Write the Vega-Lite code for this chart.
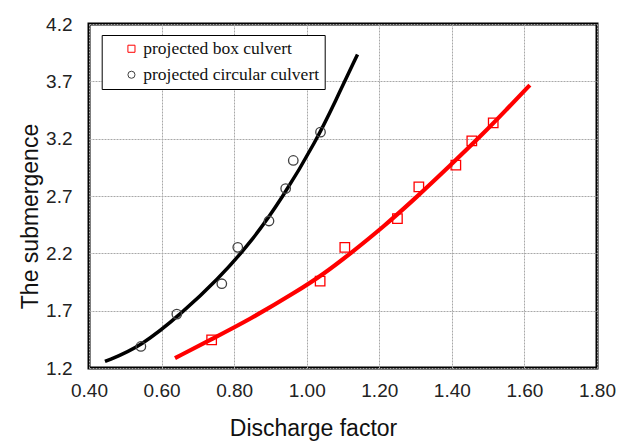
{
  "$schema": "https://vega.github.io/schema/vega-lite/v6.json",
  "autosize": {"type": "none"},
  "width": 508,
  "height": 344,
  "padding": {"left": 89, "top": 24, "right": 27, "bottom": 73},
  "background": "white",
  "config": {
    "view": {"stroke": "#000000", "strokeWidth": 3},
    "font": "Liberation Sans"
  },
  "datasets": {
    "points": [
      {"series": "projected box culvert", "factor": 0.738, "sub": 1.445},
      {"series": "projected box culvert", "factor": 1.037, "sub": 1.958},
      {"series": "projected box culvert", "factor": 1.105, "sub": 2.252},
      {"series": "projected box culvert", "factor": 1.250, "sub": 2.503},
      {"series": "projected box culvert", "factor": 1.309, "sub": 2.779},
      {"series": "projected box culvert", "factor": 1.411, "sub": 2.969},
      {"series": "projected box culvert", "factor": 1.455, "sub": 3.181},
      {"series": "projected box culvert", "factor": 1.514, "sub": 3.338},
      {"series": "projected circular culvert", "factor": 0.543, "sub": 1.388},
      {"series": "projected circular culvert", "factor": 0.642, "sub": 1.670},
      {"series": "projected circular culvert", "factor": 0.766, "sub": 1.935},
      {"series": "projected circular culvert", "factor": 0.810, "sub": 2.252},
      {"series": "projected circular culvert", "factor": 0.896, "sub": 2.482},
      {"series": "projected circular culvert", "factor": 0.942, "sub": 2.765},
      {"series": "projected circular culvert", "factor": 0.963, "sub": 3.010},
      {"series": "projected circular culvert", "factor": 1.038, "sub": 3.257}
    ],
    "curves": [
      {"fit": "box fit", "factor": 0.637, "sub": 1.286},
      {"fit": "box fit", "factor": 0.737, "sub": 1.450},
      {"fit": "box fit", "factor": 0.844, "sub": 1.625},
      {"fit": "box fit", "factor": 0.972, "sub": 1.866},
      {"fit": "box fit", "factor": 1.046, "sub": 2.018},
      {"fit": "box fit", "factor": 1.119, "sub": 2.195},
      {"fit": "box fit", "factor": 1.211, "sub": 2.430},
      {"fit": "box fit", "factor": 1.303, "sub": 2.690},
      {"fit": "box fit", "factor": 1.395, "sub": 2.965},
      {"fit": "box fit", "factor": 1.487, "sub": 3.245},
      {"fit": "box fit", "factor": 1.551, "sub": 3.455},
      {"fit": "box fit", "factor": 1.615, "sub": 3.667},
      {"fit": "circular fit", "factor": 0.444, "sub": 1.257},
      {"fit": "circular fit", "factor": 0.543, "sub": 1.385},
      {"fit": "circular fit", "factor": 0.660, "sub": 1.690},
      {"fit": "circular fit", "factor": 0.752, "sub": 1.964},
      {"fit": "circular fit", "factor": 0.844, "sub": 2.285},
      {"fit": "circular fit", "factor": 0.935, "sub": 2.692},
      {"fit": "circular fit", "factor": 1.027, "sub": 3.187},
      {"fit": "circular fit", "factor": 1.078, "sub": 3.520},
      {"fit": "circular fit", "factor": 1.140, "sub": 3.935}
    ]
  },
  "encoding": {
    "x": {
      "field": "factor",
      "type": "quantitative",
      "scale": {"domain": [0.4, 1.8], "nice": false, "zero": false},
      "axis": {
        "title": "Discharge factor",
        "values": [0.4, 0.6, 0.8, 1.0, 1.2, 1.4, 1.6, 1.8],
        "format": ".2f",
        "domain": false,
        "ticks": false,
        "labelPadding": 13,
        "labelFontSize": 19,
        "labelColor": "#222222",
        "labelBaseline": "top",
        "labelFlush": false,
        "titleFontSize": 23,
        "titleFontWeight": "normal",
        "titleColor": "#111111",
        "titleX": 224,
        "titleY": 67,
        "titleBaseline": "alphabetic",
        "titleAlign": "center",
        "grid": true,
        "gridColor": "#a8a8a8",
        "gridWidth": 1,
        "gridDash": [2, 1]
      }
    },
    "y": {
      "field": "sub",
      "type": "quantitative",
      "scale": {"domain": [1.2, 4.2], "nice": false, "zero": false},
      "axis": {
        "title": "The submergence",
        "values": [1.2, 1.7, 2.2, 2.7, 3.2, 3.7, 4.2],
        "format": ".1f",
        "domain": false,
        "ticks": false,
        "labelPadding": 17,
        "labelFontSize": 19,
        "labelColor": "#222222",
        "labelFlush": false,
        "titleFontSize": 23,
        "titleFontWeight": "normal",
        "titleColor": "#111111",
        "titleX": -52,
        "titleY": 192,
        "titleAngle": -90,
        "titleBaseline": "alphabetic",
        "titleAlign": "center",
        "grid": true,
        "gridColor": "#a8a8a8",
        "gridWidth": 1,
        "gridDash": [2, 1]
      }
    }
  },
  "layer": [
    {
      "data": {"name": "curves"},
      "mark": {"type": "line", "interpolate": "basis"},
      "encoding": {
        "stroke": {
          "field": "fit",
          "type": "nominal",
          "scale": {"domain": ["box fit", "circular fit"], "range": ["#ff0000", "#000000"]},
          "legend": null
        },
        "strokeWidth": {
          "field": "fit",
          "type": "nominal",
          "scale": {"domain": ["box fit", "circular fit"], "range": [4.2, 3.5]},
          "legend": null
        }
      }
    },
    {
      "data": {"name": "points"},
      "mark": {"type": "point", "filled": false, "strokeWidth": 1.3, "size": 90, "opacity": 1},
      "encoding": {
        "color": {
          "field": "series",
          "type": "nominal",
          "scale": {"domain": ["projected box culvert", "projected circular culvert"], "range": ["#ff0000", "#404040"]},
          "legend": {
            "title": null,
            "orient": "none",
            "legendX": 12.7,
            "legendY": 11,
            "strokeColor": "#000000",
            "fillColor": "#ffffff",
            "cornerRadius": 0,
            "padding": 5,
            "rowPadding": 7,
            "symbolOffset": 16,
            "symbolSize": 50,
            "symbolStrokeWidth": 1,
            "labelFont": "Liberation Serif",
            "labelFontSize": 17.5,
            "labelColor": "#111111",
            "labelOffset": 3,
            "labelLimit": 400
          }
        },
        "shape": {
          "field": "series",
          "type": "nominal",
          "scale": {"domain": ["projected box culvert", "projected circular culvert"], "range": ["square", "circle"]}
        }
      }
    }
  ]
}
